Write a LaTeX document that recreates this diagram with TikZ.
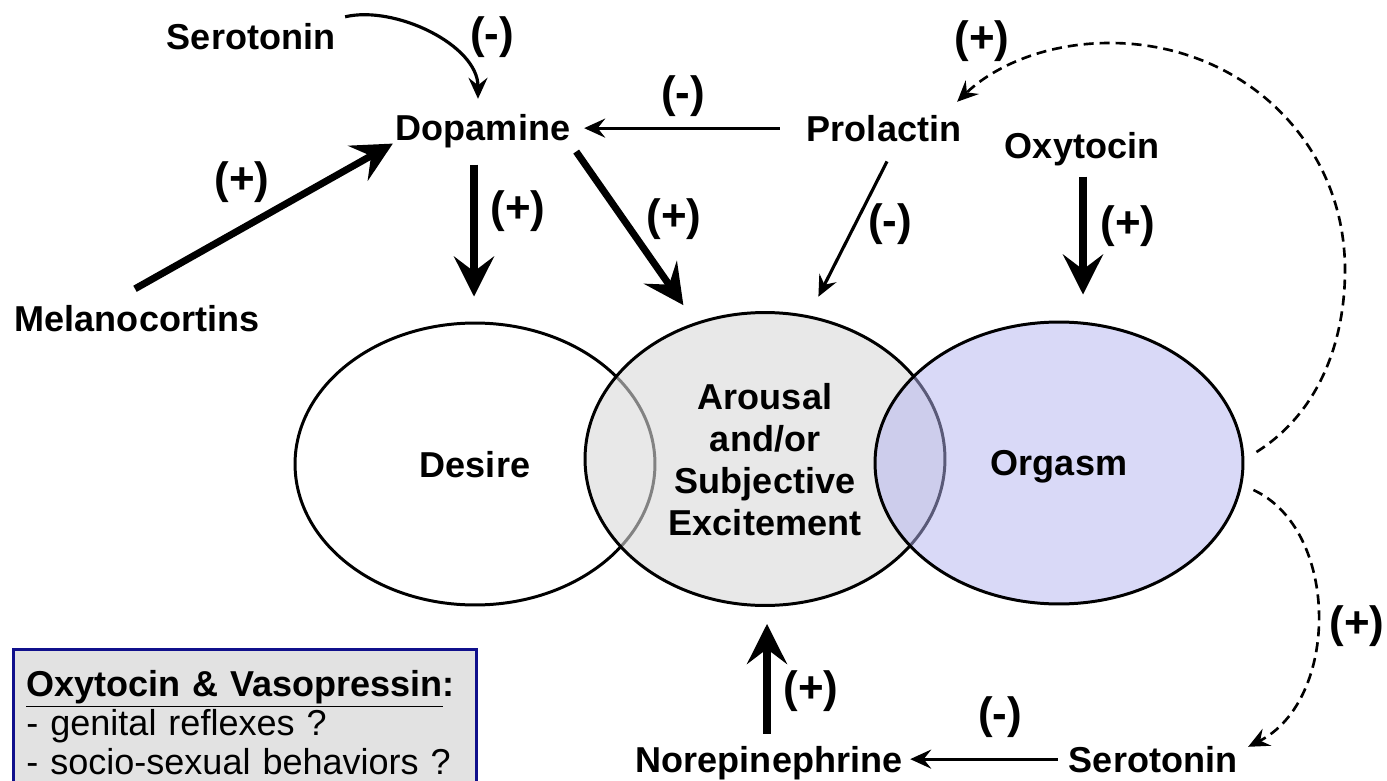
\documentclass[tikz,border=0pt]{standalone}
\usepackage{fontspec}
\setmainfont{Liberation Sans}
\usetikzlibrary{arrows.meta, shapes.geometric, calc}
\definecolor{arousalgray}{RGB}{217,217,217}
\definecolor{orgasmblue}{RGB}{180,180,240}
\definecolor{boxblue}{RGB}{16,16,140}
\definecolor{boxgray}{RGB}{226,226,226}

\begin{document}
\begin{tikzpicture}[x = 0.02cm, y = -0.02cm,
        hormone/.style = {font = \bfseries\fontsize{20.5}{24}\selectfont, anchor = base, inner sep = 1pt},
        sign/.style = {font = \bfseries\fontsize{25}{30}\selectfont, anchor = base, inner sep = 1pt},
        phase/.style = {ellipse, draw, line width = 1.7pt, align = center, text depth = 0pt,
            font = \bfseries\fontsize{20.5}{23.9}\selectfont},
        strong/.style = {line width = 4pt, -{Stealth[length = 0.8cm, width = 0.8cm, inset = 0.3cm]}},
        weak/.style = {line width = 1.8pt, -{Stealth[length = 0.42cm, width = 0.38cm, inset = 0.15cm]}},
        feedback/.style = {weak, line width = 1.5pt, dash pattern = on 0.2cm off 0.12cm}]
        \useasboundingbox (0, 0) rectangle (1387, 781);
        \clip (0, 0) rectangle (1387, 781);

        % phases
        \node[phase, fill = white, minimum width = 7.2cm, minimum height = 5.64cm] (desire) at (475, 464) {Desire};
        \node[phase, fill = arousalgray, fill opacity = 0.6, text opacity = 1,
            minimum width = 7.2cm, minimum height = 5.86cm] (arousal) at (765, 459) {Arousal\\and/or\\Subjective\\Excitement};
        \node[phase, fill = orgasmblue, fill opacity = 0.5, text opacity = 1,
            minimum width = 7.36cm, minimum height = 5.64cm] (orgasm) at (1059, 463) {Orgasm};

        % transmitters and hormones
        \node[hormone] (sero1) at (251, 50) {Serotonin};
        \node[hormone] (dopa) at (483, 140) {Dopamine};
        \node[hormone] (prol) at (884, 141) {Prolactin};
        \node[hormone] (oxy) at (1082, 158) {Oxytocin};
        \node[hormone] (melano) at (137, 331) {Melanocortins};
        \node[hormone] (norepi) at (769, 772) {Norepinephrine};
        \node[hormone] (sero2) at (1153, 772) {Serotonin};

        % signs
        \node[sign] (minSero) at (492, 49) {(-)};
        \node[sign] (minProlDopa) at (683, 107) {(-)};
        \node[sign] (plusFeedTop) at (982, 52) {(+)};
        \node[sign] (plusMelano) at (242, 193) {(+)};
        \node[sign] (plusDesire) at (518, 222) {(+)};
        \node[sign] (plusArousal) at (674, 230) {(+)};
        \node[sign] (minProlArousal) at (890, 235) {(-)};
        \node[sign] (plusOxy) at (1128, 237) {(+)};
        \node[sign] (plusFeedLow) at (1357, 637) {(+)};
        \node[sign] (plusNorepi) at (811, 702) {(+)};
        \node[sign] (minSeroNorepi) at (1000, 728) {(-)};

        % box
        \node[draw = boxblue, line width = 1.6pt, fill = boxgray, anchor = north west, align = left,
            text width = 8.74cm, inner xsep = 0.26cm, inner ysep = 0.42cm,
            font = \fontsize{20.5}{22.2}\selectfont] (ovbox) at (12, 648)
            {\textbf{\underline{Oxytocin \& Vasopressin}:}\\- genital reflexes ?\\- socio-sexual behaviors ?};

        % connectors
        \draw[weak] ($(sero1.north east) + (8, -5)$) .. controls (395, 5) and (478, 45) .. ($(dopa.north) + (-5, -13)$);
        \draw[weak, shorten <= 0.5cm, shorten >= 0.24cm] (prol.west) -- (prol.west -| dopa.east);
        \draw[strong] ($(melano.north) + (-2, -14)$) -- ($(dopa.south west) + (-1, -6)$);
        \draw[strong] ($(dopa.south) + (-9, 15)$) -- ($(desire.north) + (-1, -25)$);
        \draw[strong, shorten >= 0.42cm] ($(dopa.south east) + (4, 2)$) -- (arousal.117);
        \draw[weak, shorten >= 0.42cm] ($(prol.south) + (3, 18)$) -- (arousal.73);
        \draw[strong] ($(oxy.south) + (1, 9)$) -- ($(oxy.south |- orgasm.north) + (1, -26)$);
        \draw[strong] ($(norepi.north) + (-2, -10)$) -- ($(arousal.south) + (2, 17)$);
        \draw[weak, shorten <= 0.18cm, shorten >= 0.12cm] (sero2.west) -- (sero2.west -| norepi.east);
        \draw[feedback] ($(orgasm.east) + (12, -11)$) .. controls (1320, 412) and (1345, 340) .. (1345, 270)
            .. controls (1345, 140) and (1240, 43) .. (1110, 43)
            .. controls (1040, 43) and (990, 70) .. ($(prol.north east) + (-6, -11)$);
        \draw[feedback] ($(orgasm.east) + (9, 27)$) .. controls (1340, 530) and (1340, 700) .. ($(sero2.north east) + (9, 3)$);
    \end{tikzpicture}
\end{document}
